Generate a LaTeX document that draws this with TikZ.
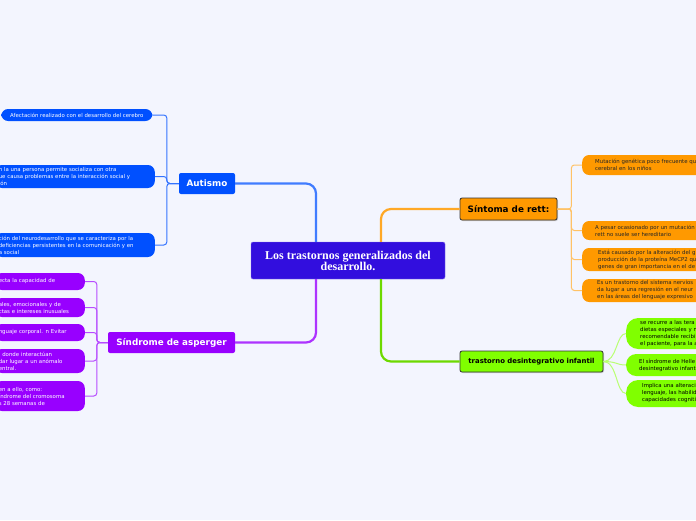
\documentclass[tikz,border=0pt]{standalone}
\usepackage{fontspec}
\setmainfont{DejaVu Sans}
\newfontfamily\titlefont{Liberation Serif}
\usepackage{xcolor}
\usetikzlibrary{positioning, shadows}
\definecolor{paper}{RGB}{243,245,254}
\definecolor{rootindigo}{RGB}{50,14,222}
\definecolor{autblue}{RGB}{0,80,255}
\definecolor{aspviolet}{RGB}{152,0,255}
\definecolor{rettorange}{RGB}{255,153,0}
\definecolor{tdigreen}{RGB}{128,255,0}
\tikzset{
  topic/.style={rounded corners=2pt, inner sep=0pt, font=\bfseries\fontsize{8.8}{10}\selectfont},
  leaf/.style={rounded corners=7pt, inner ysep=1pt, align=left, font=\fontsize{5.4}{7}\selectfont},
  twig/.style={line width=1pt, rounded corners=3pt},
  trunk/.style={line width=2.2pt, rounded corners=10pt}
}

\begin{document}
\begin{tikzpicture}[x=1pt, y=-1pt]
  \useasboundingbox (0,0) rectangle (696,520);
  \clip (0,0) rectangle (696,520);
  \fill[paper] (0,0) rectangle (696,520);

  % centre
  \node[fill=rootindigo, text=white, rounded corners=2pt, draw=rootindigo!60, minimum width=194pt, minimum height=37pt, align=center,
    inner sep=1pt, font=\titlefont\bfseries\fontsize{12}{11}\selectfont] (root) at (348,260.5)
    {Los trastornos generalizados del\\desarrollo.};

  % main topics
  \node[topic, fill=autblue, text=white, minimum width=56pt, minimum height=21pt] (aut) at (207,183.5) {Autismo};
  \node[topic, fill=aspviolet, text=white, minimum width=127pt, minimum height=21pt] (asp) at (171.5,342.5) {Síndrome de asperger};
  \node[topic, fill=rettorange, draw=black!80, line width=0.8pt, minimum width=97pt, minimum height=22pt,
    drop shadow={shadow xshift=1pt, shadow yshift=-1pt, opacity=0.35}] (rett) at (508.5,209) {Síntoma de rett:};
  \node[topic, fill=tdigreen, draw=black!80, line width=0.8pt, minimum width=143pt, minimum height=21pt,
    font=\bfseries\fontsize{6.9}{8}\selectfont,
    drop shadow={shadow xshift=1pt, shadow yshift=-1pt, opacity=0.35}] (tdi) at (531.5,361.5) {trastorno desintegrativo infantil};

  \draw[trunk, autblue!75] ([xshift=-32pt]root.north) |- (aut.east);
  \draw[trunk, rettorange!85] ([xshift=33pt]root.north) |- (rett.west);
  \draw[trunk, aspviolet!80] ([xshift=-32pt]root.south) |- (asp.east);
  \draw[trunk, tdigreen!85!black] ([xshift=33pt]root.south) |- (tdi.west);

  % Autismo
  \node[leaf, fill=autblue, text=white, anchor=west, inner xsep=9pt, minimum height=12pt] (a1) at (1,115)
    {Afectación realizado con el desarrollo del cerebro};
  \node[leaf, fill=autblue, text=white, anchor=east, inner xsep=4pt, text width=152pt, minimum height=23pt] (a2) at (155,176.5)
    {n la una persona permite socializa con otra\\ue causa problemas entre la interacción social y\\ión};
  \node[leaf, fill=autblue, text=white, anchor=east, inner xsep=4pt, text width=152pt, minimum height=24pt] (a3) at (155,245)
    {ción del neurodesarrollo que se caracteriza por la\\ deficiencias persistentes en la comunicación y en\\a social};
  \foreach \n in {a1,a2,a3} \draw[twig, autblue!80] (aut.west) -- ++(-12,0) |- (\n.east);

  % Sindrome de asperger
  \node[leaf, fill=aspviolet, text=white, anchor=east, inner xsep=4pt, text width=82pt, minimum height=17pt] (s1) at (85,281.5)
    {ecta la capacidad de\\[-2pt]};
  \node[leaf, fill=aspviolet, text=white, anchor=east, inner xsep=4pt, text width=82pt, minimum height=19pt] (s2) at (85,307.5)
    {ales, emocionales y de\\ctas e intereses inusuales};
  \node[leaf, fill=aspviolet, text=white, anchor=east, inner xsep=4pt, text width=82pt, minimum height=17pt] (s3) at (85,332.5)
    {nguaje corporal. n Evitar\\[-2pt]};
  \node[leaf, fill=aspviolet, text=white, anchor=east, inner xsep=4pt, text width=82pt, minimum height=24pt] (s4) at (85,361)
    {, donde interactúan\\dar lugar a un anómalo\\entral.};
  \node[leaf, fill=aspviolet, text=white, anchor=east, inner xsep=4pt, text width=82pt, minimum height=30pt] (s5) at (85,396)
    {en a ello, como:\\índrome del cromosoma\\s 28 semanas de\\[-2pt]};
  \foreach \n in {s1,s2,s3,s4,s5} \draw[twig, aspviolet!70] (asp.west) -- ++(-11,0) |- (\n.east);

  % Sintoma de rett
  \node[leaf, fill=rettorange, text=black!85, anchor=west, inner xsep=13pt, text width=140pt, minimum height=20pt] (r1) at (582,165)
    {Mutación genética poco frecuente qu\\cerebral en los niños};
  \node[leaf, fill=rettorange, text=black!85, anchor=west, inner xsep=13pt, text width=140pt, minimum height=19pt] (r2) at (582,230.5)
    {A pesar ocasionado por un mutación\\rett no suele ser hereditario};
  \node[leaf, fill=rettorange, text=black!85, anchor=west, inner xsep=16pt, text width=140pt, minimum height=23pt] (r3) at (582,259.5)
    {Está causado por la alteración del g\\producción de la proteína MeCP2 qu\\genes de gran importancia en el de};
  \node[leaf, fill=rettorange, text=black!85, anchor=west, inner xsep=15pt, text width=140pt, minimum height=23pt] (r4) at (582,290.5)
    {Es un trastorno del sistema nervios\\da lugar a una regresión en el neur\\en las áreas del lenguaje expresivo};
  \foreach \n in {r1,r2,r3,r4} \draw[twig, rettorange!60] (rett.east) -- ++(14,0) |- (\n.west);

  % trastorno desintegrativo infantil
  \node[leaf, fill=tdigreen, text=black, anchor=west, inner xsep=14pt, text width=120pt, minimum height=31pt, rounded corners=12pt] (g1) at (626,333.5)
    {se recurre a las tera\\dietas especiales y n\\recomendable recibi\\el paciente, para la a};
  \node[leaf, fill=tdigreen, text=black, anchor=west, inner xsep=13pt, text width=120pt, minimum height=22pt, rounded corners=10pt] (g2) at (626,365)
    {El síndrome de Helle\\desintegrativo infant};
  \node[leaf, fill=tdigreen, text=black, anchor=west, inner xsep=16pt, text width=120pt, minimum height=27pt, rounded corners=12pt] (g3) at (626,393.5)
    {Implica una alteraci\\lenguaje, las habilid\\capacidades cogniti};
  \foreach \n in {g1,g2,g3} \draw[line width=1pt, tdigreen!55] (tdi.east) .. controls +(14,0) and +(-10,0) .. (\n.west);
\end{tikzpicture}
\end{document}
